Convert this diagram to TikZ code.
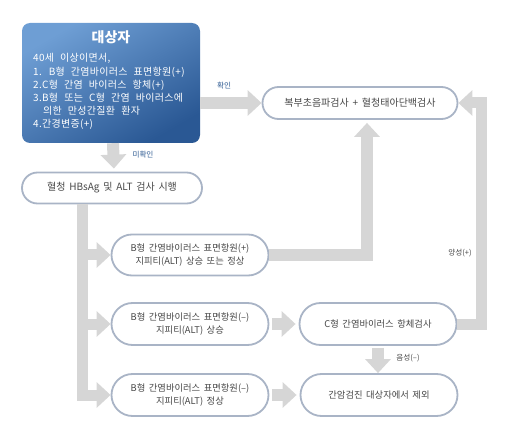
\documentclass[tikz,border=0pt]{standalone}
\usepackage{fontspec}
\setmainfont{Noto Sans CJK KR}[WordSpace=1.7]
\newfontfamily\critfont{Noto Sans CJK KR}[WordSpace=2.4, LetterSpace=3]
\usetikzlibrary{arrows.meta,
                calc,
                positioning,
                shapes.misc}

\definecolor{boxlight}{HTML}{6E9ED4}
\definecolor{boxdark}{HTML}{2A5894}
\definecolor{capline}{HTML}{A9B4C6}
\definecolor{arrowgrey}{HTML}{D6D6D6}
\definecolor{txtgrey}{HTML}{474747}
\definecolor{labblue}{HTML}{2F5B92}

\begin{document}
\begin{tikzpicture}[x=1pt,y=-1pt,
  capsule/.style={draw=capline, line width=1.8pt, rounded rectangle, fill=white,
                  text=txtgrey, align=center, inner sep=0pt,
                  font=\fontsize{9.3}{13.5}\selectfont},
  fatarrow/.style={draw=arrowgrey, line width=12pt, line join=miter,
                   -{Triangle[length=14pt,width=25pt]}},
  flowlabel/.style={font=\fontsize{7.6}{9}\selectfont, text=txtgrey},
  crittext/.style={anchor=west, text=white, inner sep=0pt,
                   font=\critfont\fontsize{10}{12}\selectfont}]

\useasboundingbox (0,0) rectangle (512,441);

% target group
\node[rounded corners=8pt, top color=boxlight, bottom color=boxdark, shading angle=30,
      minimum width=178pt, minimum height=120pt] (target) at (111,83) {};
\node[text=white, font=\fontsize{14}{16}\selectfont\bfseries] (title) at (111,37) {대상자};
\foreach \x/\y/\t [count=\i] in {33/58/{40세 이상이면서,},
                                 33/72/{1. B형 간염바이러스 표면항원(+)},
                                 33/85/{2.C형 간염 바이러스 항체(+)},
                                 33/98/{3.B형 또는 C형 간염 바이러스에},
                                 43/111/{의한 만성간질환 환자},
                                 33/124/{4.간경변증(+)}}
  \node[crittext] (crit\i) at (\x,\y) {\t};

% tests
\node[capsule, minimum width=195pt, minimum height=32pt,
      font=\fontsize{10}{12}\selectfont] (ultra) at (360,103) {복부초음파검사 + 혈청태아단백검사};
\node[capsule, minimum width=180pt, minimum height=31pt,
      font=\fontsize{10}{12}\selectfont] (serum) at (112,188) {혈청 HBsAg 및 ALT 검사 시행};

\node[capsule, minimum width=157pt, minimum height=41pt] (bpos) at (190,255)
  {B형 간염바이러스 표면항원(+)\\지피티(ALT) 상승 또는 정상};
\node[capsule, minimum width=157pt, minimum height=42pt] (bneghigh) at (190,324)
  {B형 간염바이러스 표면항원(--)\\지피티(ALT) 상승};
\node[capsule, minimum width=157pt, minimum height=42pt] (bnegnorm) at (190,395)
  {B형 간염바이러스 표면항원(--)\\지피티(ALT) 정상};
\node[capsule, minimum width=157pt, minimum height=42pt] (hcv) at (378,324)
  {C형 간염바이러스 항체검사};
\node[capsule, minimum width=157pt, minimum height=42pt] (excl) at (379,395)
  {간암검진 대상자에서 제외};

% arrows
\draw[fatarrow] (target.east |- ultra) -- (ultra.west);
\node[flowlabel, text=labblue] (yes) at (224,86) {확인};

\draw[fatarrow, shorten >=3pt] ([xshift=2pt]target.south) -- ([xshift=2pt]serum.north);
\node[flowlabel, text=labblue] (no) at (143,155) {미확인};

\coordinate (fork) at ([xshift=-30pt]serum.south);
\draw[fatarrow, line width=11pt] (fork) |- (bnegnorm.west);
\foreach \n in {bpos,bneghigh}
  \draw[fatarrow, line width=11pt] (fork |- \n) -- (\n.west);

\draw[fatarrow, shorten >=3pt] (bpos.east) -| ([xshift=7pt]ultra.south);

\draw[fatarrow, line width=11pt] (hcv.east) -- ++(24,0) |- (ultra.east);
\node[flowlabel] (pos) at (460,253) {양성(+)};

\draw[fatarrow] ([xshift=3pt]bneghigh.east) -- ([xshift=-3pt]hcv.west);
\draw[fatarrow] ([xshift=3pt]bnegnorm.east) -- ([xshift=-3pt]excl.west);

\draw[fatarrow, shorten <=2pt] (hcv.south) -- (hcv.south |- excl.north);
\node[flowlabel] (neg) at (408,358) {음성(--)};
\end{tikzpicture}
\end{document}
